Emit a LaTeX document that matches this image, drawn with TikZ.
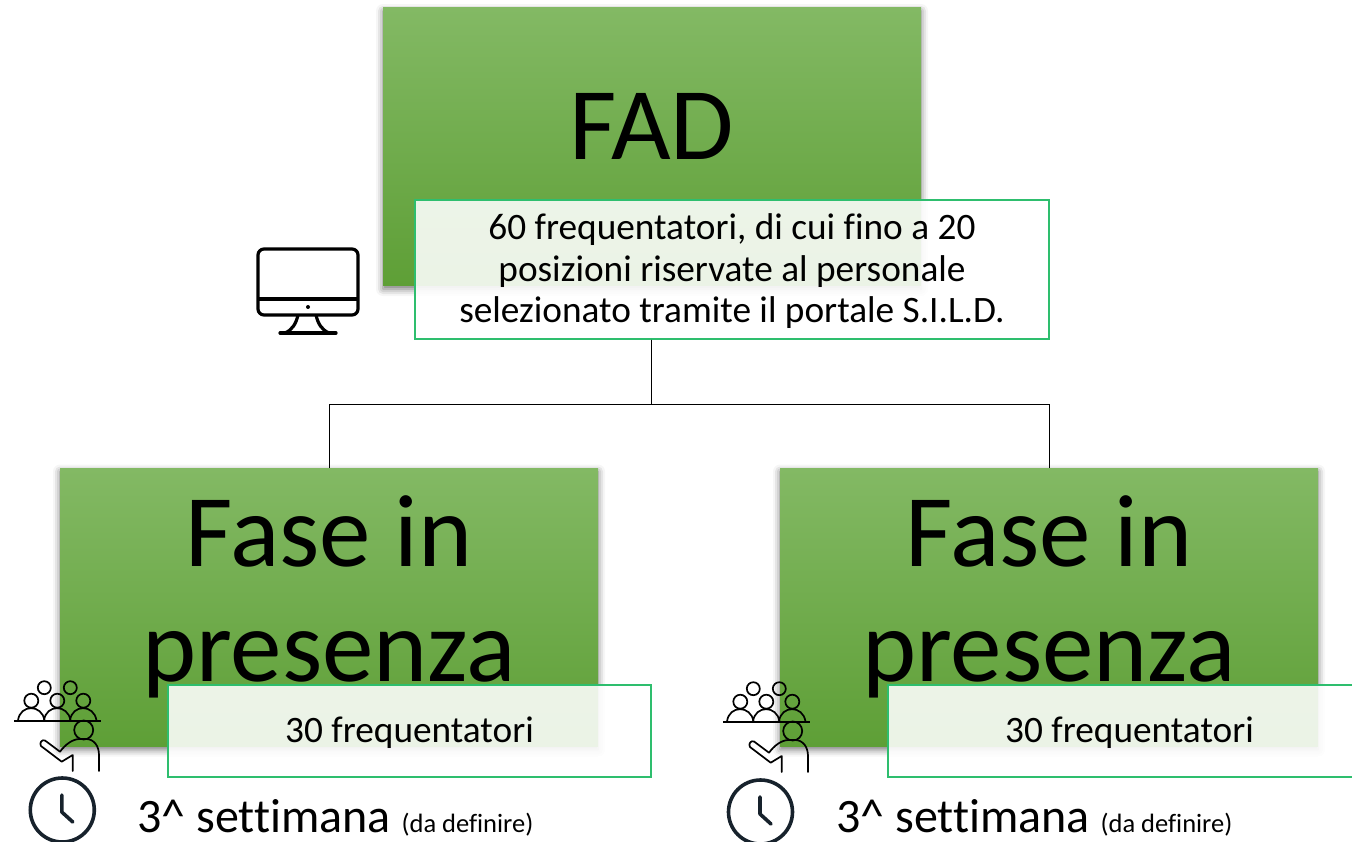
\documentclass[tikz,border=0pt]{standalone}
\usepackage{fontspec}
\setmainfont[Ligatures=CommonOff]{Carlito}
\usetikzlibrary{shadows.blur}
\definecolor{boxtop}{RGB}{131,185,100}
\definecolor{boxmid}{RGB}{109,173,64}
\definecolor{boxbot}{RGB}{94,159,54}
\definecolor{infoline}{RGB}{46,190,110}
\definecolor{clockline}{RGB}{23,34,44}
\tikzset{
  greenbox/.style={minimum width=538pt,minimum height=278pt,inner sep=0pt,
    top color=boxtop,middle color=boxmid,bottom color=boxbot,
    blur shadow={shadow xshift=0pt,shadow yshift=-3pt,shadow blur radius=7pt,shadow opacity=55}},
  bigtext/.style={font=\fontsize{103}{115}\selectfont,align=center,inner sep=0pt},
  infobox/.style={draw=infoline,line width=1.2pt,fill=white,fill opacity=.88,inner sep=0pt},
  infotext/.style={inner sep=0pt,align=center,font=\fontsize{37.3}{41.5}\selectfont},
  weektext/.style={anchor=base west,inner sep=0pt,font=\fontsize{48}{52}\selectfont},
  monitor/.pic={
    \draw[line width=3.2pt,rounded corners=6pt] (-50,-33) rectangle (50,33);
    \draw[line width=3.2pt] (-50,17) -- (50,17);
    \fill (0,25) circle (2pt);
    \draw[line width=3.2pt] (-10,33) .. controls (-12,42) and (-16,48) .. (-23,51);
    \draw[line width=3.2pt] (8,33) .. controls (10,42) and (14,48) .. (21,51);
    \draw[line width=3.2pt,line cap=round] (-28,51) -- (28,51);
  },
  audience/.pic={
    \foreach \headx/\heady/\headr in {44.3/687.7/6.5,70.3/687.7/6.5,31.3/700.7/7,57.3/700.7/7,83.3/700.7/7,83.7/730/9.5}
      \draw[line width=1.7pt] (\headx,\heady) circle (\headr pt);
    \foreach \armx in {18,44,70}
      \draw[line width=1.7pt] (\armx,720.5) .. controls (\armx+2,704) and (\armx+24,704) .. (\armx+26.5,720.5);
    \draw[line width=1.7pt] (14,720.7) -- (100.7,720.7);
    \draw[line width=1.7pt,line join=round,line cap=round] (72.7,771) -- (72.7,755) -- (61.7,761.7) -- (41,746)
      .. controls (39,743) and (42,739) .. (45,740.5) -- (60,751.7)
      .. controls (65,745) and (72,739) .. (80,739) -- (86,739)
      .. controls (94,739) and (99,746) .. (99,755) -- (99,771);
  },
  clockface/.pic={
    \draw[clockline,line width=3.6pt] (0,0) circle (32pt);
    \draw[clockline,line width=3.6pt,line cap=round,line join=round] (-.5,-15) -- (-.5,2) -- (10.5,12);
  }
}
\begin{document}
\begin{tikzpicture}[x=1pt,y=-1pt]
  \useasboundingbox (0,0) rectangle (1352,842);
  \node[greenbox] (fad) at (652,147) {};
  \node[greenbox] (faseA) at (329,607.5) {};
  \node[greenbox] (faseB) at (1049,607.5) {};
  \node[bigtext] (fadtext) at (652,126) {FAD};
  \node[bigtext] (faseAtext) at (329,597) {Fase in\\presenza};
  \node[bigtext] (faseBtext) at (1049,597) {Fase in\\presenza};

  \node[infobox,minimum width=634pt,minimum height=139pt] (info) at (732,269.5) {};
  \node[infobox,minimum width=483pt,minimum height=92pt] (infoA) at (409.5,731) {};
  \node[infobox,minimum width=483pt,minimum height=92pt] (infoB) at (1129.5,731) {};
  \node[infotext] (infolabel) at (732,271.5)
    {60 frequentatori, di cui fino a 20\\posizioni riservate al personale\\selezionato tramite il portale S.I.L.D.};
  \node[infotext] (infoAlabel) at (409.5,733) {30 frequentatori};
  \node[infotext] (infoBlabel) at (1129.5,733) {30 frequentatori};

  \coordinate (bus) at (651.5,404);
\foreach \to in {faseA,faseB}
    \draw (info.south -| bus) -- (bus) -| (\to.north);

  \pic at (308,282) {monitor};
  \pic at (0,0) {audience};
  \pic at (709,1) {audience};
  \pic at (62.3,810) {clockface};
  \pic at (760.5,812) {clockface};

  \node[weektext] (weekA) at (137,832) {3\^{} settimana {\fontsize{26.5}{30}\selectfont (da definire)}};
  \node[weektext] (weekB) at (836,832) {3\^{} settimana {\fontsize{26.5}{30}\selectfont (da definire)}};
\end{tikzpicture}
\end{document}
